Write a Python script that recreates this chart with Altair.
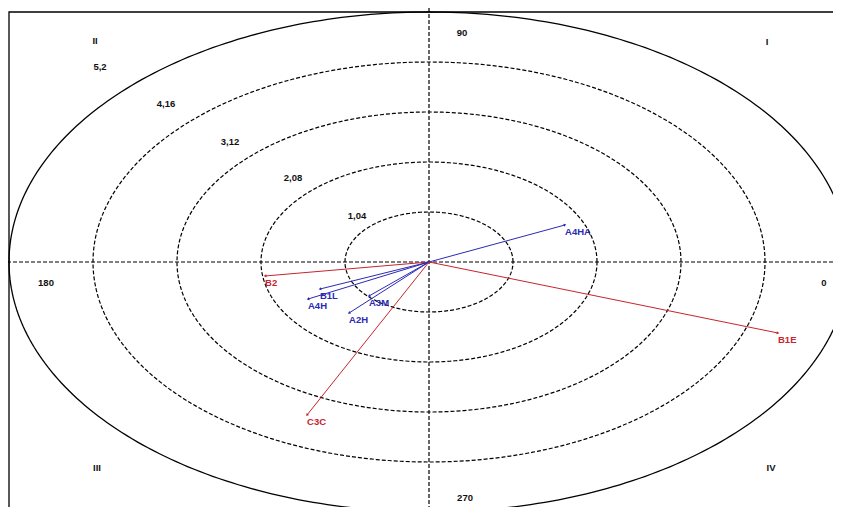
import altair as alt
import pandas as pd
import numpy as np

# ---- data ----
vec_names = ["A4HA", "B1E", "B2", "B1L", "A4H", "A3M", "A2H", "C3C"]
vec_x = [1.684, 4.321, -2.030, -1.350, -1.498, -0.743, -0.990, -1.510]
vec_y = [0.770, -1.477, -0.291, -0.562, -0.770, -0.707, -1.061, -3.182]
vec_group = ["azul", "rojo", "rojo", "azul", "azul", "azul", "azul", "rojo"]

ring_radius = [1.04, 2.08, 3.12, 4.16, 5.2]
ring_label = ["1,04", "2,08", "3,12", "4,16", "5,2"]
ring_label_x = [-0.891, -1.684, -2.464, -3.256, -4.073]
ring_label_y = [0.957, 1.747, 2.496, 3.286, 4.056]

mark_text = ["II", "I", "III", "IV", "90", "180", "0", "270"]
mark_x = [-4.135, 4.185, -4.11, 4.234, 0.409, -4.742, 4.890, 0.446]
mark_y = [4.597, 4.576, -4.28, -4.285, 4.763, -0.437, -0.437, -4.908]

# ---- layout ----
W, H = 825, 499
KX, KY = 84 / 1.04, 250 / 5.2       # px per unit
CX, CY = 421, 254                    # centre in plot px
xdom = [-CX / KX, (W - CX) / KX]
ydom = [-(H - CY) / KY, CY / KY]
xs = alt.Scale(domain=xdom, nice=False, zero=False)
ys = alt.Scale(domain=ydom, nice=False, zero=False)
X = lambda f: alt.X(f, type="quantitative", scale=xs, axis=None)
Y = lambda f: alt.Y(f, type="quantitative", scale=ys, axis=None)

vec = pd.DataFrame({"name": vec_names, "x": vec_x, "y": vec_y, "g": vec_group})
vec["x0"] = 0.0
vec["y0"] = 0.0
vec["ang"] = (np.degrees(np.arctan2(vec["x"] * KX, vec["y"] * KY)) + 360) % 360

t = np.linspace(0, 2 * np.pi, 361)
rows = []
for r in ring_radius:
    for i, a in enumerate(t):
        rows.append({"r": r, "i": i, "x": r * np.cos(a), "y": r * np.sin(a)})
rings = pd.DataFrame(rows)

line_col = alt.Scale(domain=["azul", "rojo"], range=["#2a2ab4", "#c8242c"])
text_col = alt.Scale(domain=["azul", "rojo"], range=["#00009a", "#a80000"])

frame = alt.Chart(pd.DataFrame({"x": [-5.2], "x2": [5.3], "y": [-5.3], "y2": [5.2]})).mark_rect(
    fill=None, stroke="black", strokeWidth=1.3
).encode(x=X("x"), x2="x2", y=Y("y"), y2="y2")

inner = alt.Chart(rings[rings.r < 5]).mark_line(
    color="black", strokeWidth=1.2, strokeDash=[4, 2]
).encode(x=X("x"), y=Y("y"), detail="r:N", order="i:Q")

outer = alt.Chart(rings[rings.r > 5]).mark_line(
    color="black", strokeWidth=1.3
).encode(x=X("x"), y=Y("y"), detail="r:N", order="i:Q")

axes_df = pd.DataFrame({"v": [0.0]})
hline = alt.Chart(axes_df).mark_rule(color="black", strokeWidth=1.2, strokeDash=[4, 2]).encode(
    y=Y("v"))
vline = alt.Chart(axes_df).mark_rule(color="black", strokeWidth=1.2, strokeDash=[4, 2]).encode(
    x=X("v"))

vectors = alt.Chart(vec).mark_rule(strokeWidth=1).encode(
    x=X("x0"), y=Y("y0"), x2="x", y2="y",
    color=alt.Color("g:N", scale=line_col, legend=None))

heads = alt.Chart(vec).mark_point(shape="triangle-up", filled=True, size=10, opacity=1).encode(
    x=X("x"), y=Y("y"), angle=alt.Angle("ang:Q", scale=None),
    color=alt.Color("g:N", scale=line_col, legend=None))

vlabels = alt.Chart(vec).mark_text(
    align="left", baseline="top", dx=0, dy=2, font="Liberation Sans",
    fontWeight="bold", fontSize=9.5
).encode(x=X("x"), y=Y("y"), text="name:N",
         color=alt.Color("g:N", scale=text_col, legend=None))

rl = pd.DataFrame({"t": ring_label, "x": ring_label_x, "y": ring_label_y})
rlabels = alt.Chart(rl).mark_text(
    font="Liberation Sans", fontWeight="bold", fontSize=9.5, color="#111111"
).encode(x=X("x"), y=Y("y"), text="t:N")

ml = pd.DataFrame({"t": mark_text, "x": mark_x, "y": mark_y})
mlabels = alt.Chart(ml).mark_text(
    font="Liberation Sans", fontWeight="bold", fontSize=9.5, color="#111111"
).encode(x=X("x"), y=Y("y"), text="t:N")

chart = alt.layer(
    frame, inner, outer, hline, vline, vectors, heads, vlabels, rlabels, mlabels
).properties(
    width=W, height=H, padding=0, autosize=alt.AutoSizeParams(type="none"),
    background="white"
).configure_view(stroke=None)

chart.save("out.html", embed_options={"renderer": "svg", "actions": False})
